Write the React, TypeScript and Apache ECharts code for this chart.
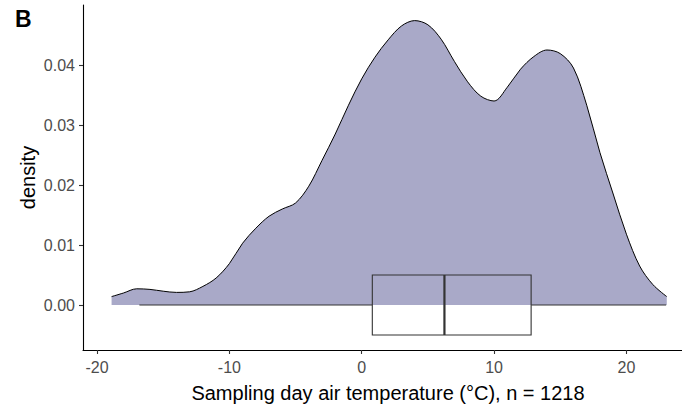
import React, { useEffect, useRef } from 'react';
import * as echarts from 'echarts';

// Kernel density of sampling-day air temperature (°C)
const tempX = [
  -18.9, -18, -17, -16, -15, -14, -13, -12, -11, -10, -9, -8, -7, -6, -5, -4, -3, -2, -1, 0, 1,
  2, 3, 4, 5, 6, 7, 8, 9, 10, 11, 12, 13, 14, 15, 16, 17, 18, 19, 20, 21, 22, 23.05,
];
const densityY = [
  0.0014, 0.002, 0.0027, 0.0026, 0.0023, 0.0021, 0.0022, 0.0031, 0.0045, 0.0069, 0.0103, 0.0128,
  0.0148, 0.016, 0.017, 0.0198, 0.0241, 0.0285, 0.0333, 0.0377, 0.0413, 0.0442, 0.0465, 0.0474,
  0.0467, 0.0443, 0.0406, 0.0372, 0.0348, 0.034, 0.0363, 0.0393, 0.0414, 0.0425, 0.0419, 0.0395,
  0.0333, 0.0254, 0.0185, 0.0118, 0.0065, 0.0034, 0.0014,
];
// boxplot: lower whisker, Q1, median, Q3, upper whisker
const boxStats = [-16.8, 0.8, 6.25, 12.8, 23.0];
const boxHalfHeight = 0.005;

const xTicks = [-20, -10, 0, 10, 20];
const yTicks = [0, 0.01, 0.02, 0.03, 0.04];

const xTitle = 'Sampling day air temperature (°C), n = 1218';
const yTitle = 'density';
const panelTag = 'B';

const FONT = '"Liberation Sans", Arial, sans-serif';

export default function App() {
  const ref = useRef<HTMLDivElement>(null);
  useEffect(() => {
    const chart = echarts.init(ref.current!, null, { renderer: 'svg' });
    const densityData = tempX.map((x, i) => [x, densityY[i]]);
    chart.setOption({
      animation: false,
      backgroundColor: '#ffffff',
      grid: { left: 83, right: 0, top: 5, bottom: 58, outerBoundsMode: 'none' },
      xAxis: {
        type: 'value',
        min: -21.06,
        max: 24.2,
        splitLine: { show: false },
        axisLine: { show: true, onZero: false, lineStyle: { color: '#000000', width: 1.1 } },
        axisTick: { show: true, length: 4, customValues: xTicks, lineStyle: { color: '#333333', width: 1.1 } },
        axisLabel: {
          customValues: xTicks,
          color: '#4d4d4d',
          fontSize: 16,
          fontFamily: FONT,
          margin: 9,
        },
      },
      yAxis: {
        type: 'value',
        min: -0.0075,
        max: 0.05,
        splitLine: { show: false },
        axisLine: { show: true, onZero: false, lineStyle: { color: '#000000', width: 1.1 } },
        axisTick: { show: true, length: 4, customValues: yTicks, lineStyle: { color: '#333333', width: 1.1 } },
        axisLabel: {
          customValues: yTicks,
          color: '#4d4d4d',
          fontSize: 16,
          fontFamily: FONT,
          margin: 8,
          formatter: (v: number) => v.toFixed(2),
        },
      },
      series: [
        {
          type: 'line',
          data: densityData,
          smooth: 0.33,
          showSymbol: false,
          symbol: 'none',
          lineStyle: { color: '#000000', width: 1 },
          areaStyle: { color: '#a9a9c8', opacity: 1 },
          z: 2,
        },
        {
          type: 'custom',
          data: [[...boxStats, 0]],
          encode: { x: [0, 1, 2, 3, 4], y: 5 },
          z: 3,
          renderItem: (params: any, api: any) => {
            const lo = api.coord([api.value(0), 0]);
            const q1 = api.coord([api.value(1), 0]);
            const med = api.coord([api.value(2), 0]);
            const q3 = api.coord([api.value(3), 0]);
            const hi = api.coord([api.value(4), 0]);
            const top = api.coord([api.value(1), boxHalfHeight])[1];
            const bottom = api.coord([api.value(1), -boxHalfHeight])[1];
            const stroke = '#333333';
            return {
              type: 'group',
              children: [
                { type: 'line', shape: { x1: lo[0], y1: lo[1], x2: q1[0], y2: q1[1] }, style: { stroke, lineWidth: 1.1 } },
                { type: 'line', shape: { x1: q3[0], y1: q3[1], x2: hi[0], y2: hi[1] }, style: { stroke, lineWidth: 1.1 } },
                {
                  type: 'rect',
                  shape: { x: q1[0], y: top, width: q3[0] - q1[0], height: bottom - top },
                  style: { fill: 'none', stroke, lineWidth: 1.1 },
                },
                { type: 'line', shape: { x1: med[0], y1: top, x2: med[0], y2: bottom }, style: { stroke, lineWidth: 2.2 } },
              ],
            };
          },
        },
      ],
      graphic: [
        {
          type: 'text',
          x: 15,
          y: 7,
          style: { text: panelTag, fill: '#000000', font: `bold 23px ${FONT}`, align: 'left', verticalAlign: 'top' },
        },
        {
          type: 'text',
          x: 388,
          y: 393,
          style: { text: xTitle, fill: '#000000', font: `20px ${FONT}`, align: 'center', verticalAlign: 'middle' },
        },
        {
          type: 'text',
          x: 28,
          y: 177.5,
          rotation: Math.PI / 2,
          style: { text: yTitle, fill: '#000000', font: `20px ${FONT}`, align: 'center', verticalAlign: 'middle' },
        },
      ],
    });
    return () => chart.dispose();
  }, []);
  return <div ref={ref} style={{ position: 'fixed', left: 0, top: 0, width: 682, height: 408 }} />;
}
